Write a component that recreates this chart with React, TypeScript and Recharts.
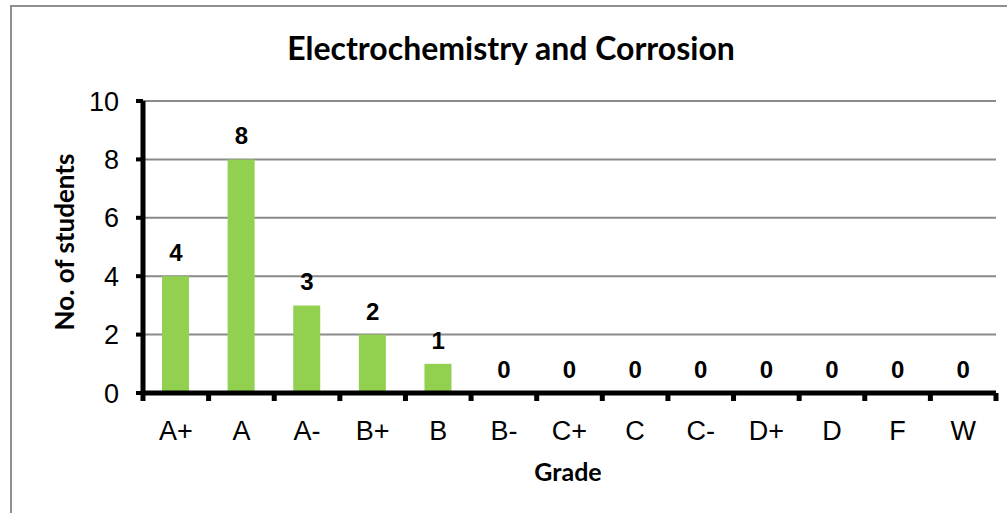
import React from "react";
import { ComposedChart, Bar, Line, XAxis, YAxis, CartesianGrid, LabelList } from "recharts";

const grades = ["A+", "A", "A-", "B+", "B", "B-", "C+", "C", "C-", "D+", "D", "F", "W"];
const students = [4, 8, 3, 2, 1, 0, 0, 0, 0, 0, 0, 0, 0];
const yTicks = [0, 2, 4, 6, 8, 10];
const title = "Electrochemistry and Corrosion";
const xTitle = "Grade";
const yTitle = "No. of students";

const data = grades.map((g, i) => ({ grade: g, value: students[i] }));

const W = 1007;
const H = 513;
const ML = 143;
const MR = 11;
const MT = 101;
const MB = 120;
const band = (W - ML - MR) / grades.length;
const titleFont = "Lato, sans-serif";
const tickFont = "'Liberation Sans', Arial, sans-serif";

const XTick = (props: any) => {
  const { x, payload, index } = props;
  const y0 = MT + (H - MT - MB);
  return (
    <g>
      <line x1={x - band / 2} x2={x - band / 2} y1={y0} y2={y0 + 8} stroke="#000" strokeWidth={5} />
      {index === grades.length - 1 && (
        <line x1={x + band / 2} x2={x + band / 2} y1={y0} y2={y0 + 8} stroke="#000" strokeWidth={5} />
      )}
      <text x={x} y={y0 + 47} textAnchor="middle" fontFamily={tickFont} fontSize={27} fill="#000">
        {payload.value}
      </text>
    </g>
  );
};

const YTitle = () => (
  <text
    x={0}
    y={0}
    transform="translate(65, 242) rotate(-90)"
    dy="0.35em"
    textAnchor="middle"
    fontFamily={titleFont}
    fontWeight={700}
    fontSize={26}
    fill="#000"
  >
    {yTitle}
  </text>
);

const XTitle = () => (
  <text x={568} y={472} dy="0.35em" textAnchor="middle" fontFamily={titleFont} fontWeight={700} fontSize={25} fill="#000">
    {xTitle}
  </text>
);

export default function App() {
  return (
    <div style={{ position: "absolute", left: 0, top: 0, width: W, height: H, background: "#fff", overflow: "hidden" }}>
      <div
        style={{
          position: "absolute",
          left: 10,
          top: 5,
          width: W,
          height: H,
          borderLeft: "2px solid #8f8f8f",
          borderTop: "2px solid #8f8f8f",
        }}
      />
      <div
        style={{
          position: "absolute",
          left: 0,
          top: 28,
          width: 1022,
          textAlign: "center",
          fontFamily: titleFont,
          fontWeight: 700,
          fontSize: 32,
          lineHeight: "40px",
          color: "#000",
        }}
      >
        {title}
      </div>
      <div style={{ position: "absolute", left: 0, top: 0 }}>
        <ComposedChart width={W} height={H} data={data} margin={{ top: MT, right: MR, bottom: MB - 60, left: 0 }}>
          <CartesianGrid horizontal={true} vertical={false} stroke="#8a8a8a" strokeWidth={2} />
          <XAxis
            dataKey="grade"
            axisLine={{ stroke: "#000", strokeWidth: 5 }}
            tickLine={false}
            tick={<XTick />}
            height={60}
            interval={0}
            label={<XTitle />}
          />
          <YAxis
            width={ML}
            domain={[0, 10]}
            ticks={yTicks}
            interval={0}
            axisLine={{ stroke: "#000", strokeWidth: 5 }}
            tickLine={{ stroke: "#000", strokeWidth: 4 }}
            tickSize={7}
            tickMargin={17}
            tick={{ fontFamily: tickFont, fontSize: 27, fill: "#000" }}
            label={<YTitle />}
          />
          <Bar dataKey="value" fill="#92D050" barSize={27} isAnimationActive={false} />
          <Line dataKey="value" stroke="none" dot={false} activeDot={false} isAnimationActive={false}>
            <LabelList
              dataKey="value"
              position="top"
              offset={15}
              style={{ fontFamily: tickFont, fontWeight: 700, fontSize: 24, fill: "#000" }}
            />
          </Line>
        </ComposedChart>
      </div>
    </div>
  );
}
